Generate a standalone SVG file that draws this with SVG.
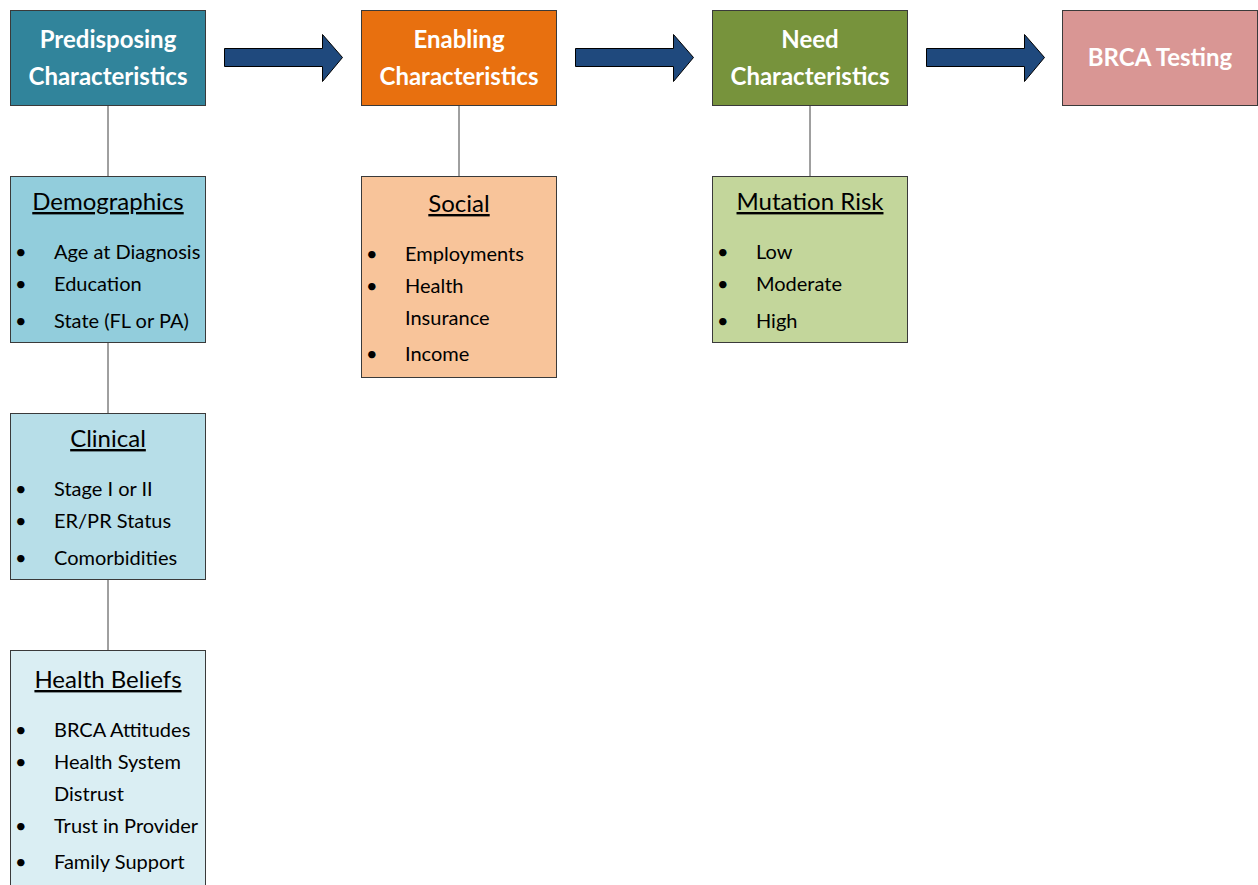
<svg xmlns="http://www.w3.org/2000/svg" width="1258" height="885" viewBox="0 0 1258 885">
<style>
.box{stroke:#3a3a3a;stroke-width:1}
.title{font-family:Lato,"Open Sans","Liberation Sans",sans-serif;font-weight:bold;font-size:24px;fill:#fff;text-anchor:middle}
.head{font-family:Lato,"Open Sans","Liberation Sans",sans-serif;font-size:24px;fill:#000;text-anchor:middle;text-decoration:underline}
.item{font-family:Lato,"Open Sans","Liberation Sans",sans-serif;font-size:20px;fill:#000}
.conn{stroke:#404040;stroke-width:1;fill:none}
.arrow{fill:#1F497D;stroke:#000;stroke-width:1}
</style>
<rect width="1258" height="885" fill="#fff"/>
<g id="connectors">
<line class="conn" x1="108" y1="105" x2="108" y2="176"/>
<line class="conn" x1="108" y1="342" x2="108" y2="413"/>
<line class="conn" x1="108" y1="579" x2="108" y2="650"/>
<line class="conn" x1="459" y1="105" x2="459" y2="176"/>
<line class="conn" x1="810" y1="105" x2="810" y2="176"/>
<path class="arrow" d="M224.5,48.5 H322.5 V34.5 L342.5,57.5 L322.5,81.5 V66.5 H224.5 Z"/>
<path class="arrow" d="M575.5,48.5 H673.5 V34.5 L693.5,57.5 L673.5,81.5 V66.5 H575.5 Z"/>
<path class="arrow" d="M926.5,48.5 H1024.5 V34.5 L1044.5,57.5 L1024.5,81.5 V66.5 H926.5 Z"/>
</g>
<g id="predisposing">
<rect class="box" x="10.5" y="10.5" width="195" height="95" fill="#31849B"/>
<text class="title" x="108" y="48">Predisposing</text>
<text class="title" x="108" y="85">Characteristics</text>
</g>
<g id="enabling">
<rect class="box" x="361.5" y="10.5" width="195" height="95" fill="#E8700F"/>
<text class="title" x="459" y="48">Enabling</text>
<text class="title" x="459" y="85">Characteristics</text>
</g>
<g id="need">
<rect class="box" x="712.5" y="10.5" width="195" height="95" fill="#77933C"/>
<text class="title" x="810" y="48">Need</text>
<text class="title" x="810" y="85">Characteristics</text>
</g>
<g id="brca-testing">
<rect class="box" x="1062.5" y="10.5" width="195" height="95" fill="#D99694"/>
<text class="title" x="1160" y="66">BRCA Testing</text>
</g>
<g id="demographics">
<rect class="box" x="10.5" y="176.5" width="195" height="166" fill="#92CDDC"/>
<text class="head" x="108" y="210">Demographics</text>
<text class="item" x="15" y="259">•</text><text class="item" x="54" y="259">Age at Diagnosis</text>
<text class="item" x="15" y="291">•</text><text class="item" x="54" y="291">Education</text>
<text class="item" x="15" y="328">•</text><text class="item" x="54" y="328">State (FL or PA)</text>
</g>
<g id="clinical">
<rect class="box" x="10.5" y="413.5" width="195" height="166" fill="#B7DEE8"/>
<text class="head" x="108" y="447">Clinical</text>
<text class="item" x="15" y="496">•</text><text class="item" x="54" y="496">Stage I or II</text>
<text class="item" x="15" y="528">•</text><text class="item" x="54" y="528">ER/PR Status</text>
<text class="item" x="15" y="565">•</text><text class="item" x="54" y="565">Comorbidities</text>
</g>
<g id="health-beliefs">
<rect class="box" x="10.5" y="650.5" width="195" height="240" fill="#DAEEF3"/>
<text class="head" x="108" y="688">Health Beliefs</text>
<text class="item" x="15" y="737">•</text><text class="item" x="54" y="737">BRCA Attitudes</text>
<text class="item" x="15" y="769">•</text><text class="item" x="54" y="769">Health System</text>
<text class="item" x="54" y="801">Distrust</text>
<text class="item" x="15" y="833">•</text><text class="item" x="54" y="833">Trust in Provider</text>
<text class="item" x="15" y="869">•</text><text class="item" x="54" y="869">Family Support</text>
</g>
<g id="social">
<rect class="box" x="361.5" y="176.5" width="195" height="201" fill="#F8C49A"/>
<text class="head" x="459" y="212">Social</text>
<text class="item" x="366" y="261">•</text><text class="item" x="405" y="261">Employments</text>
<text class="item" x="366" y="293">•</text><text class="item" x="405" y="293">Health</text>
<text class="item" x="405" y="325">Insurance</text>
<text class="item" x="366" y="361">•</text><text class="item" x="405" y="361">Income</text>
</g>
<g id="mutation-risk">
<rect class="box" x="712.5" y="176.5" width="195" height="166" fill="#C3D69B"/>
<text class="head" x="810" y="210">Mutation Risk</text>
<text class="item" x="717" y="259">•</text><text class="item" x="756" y="259">Low</text>
<text class="item" x="717" y="291">•</text><text class="item" x="756" y="291">Moderate</text>
<text class="item" x="717" y="328">•</text><text class="item" x="756" y="328">High</text>
</g>
</svg>
